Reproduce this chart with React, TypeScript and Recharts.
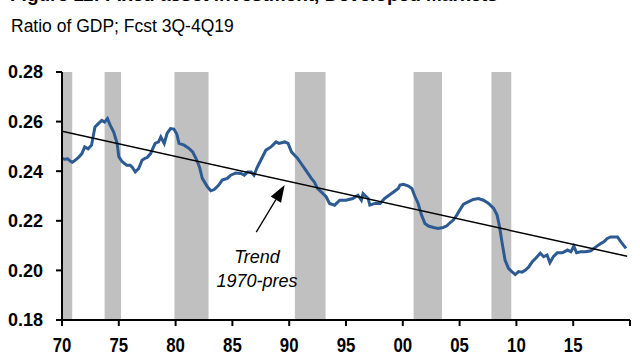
import React from 'react'
import {
  LineChart, Line, XAxis, YAxis, ReferenceArea, ReferenceLine,
} from 'recharts'

// ---- data ----
const years = [
  1970.0, 1970.25, 1970.5, 1970.75, 1970.9, 1971.1, 1971.3, 1971.5, 1971.75, 1972.0,
  1972.3, 1972.6, 1972.9, 1973.2, 1973.5, 1973.75, 1974.0, 1974.25, 1974.55, 1974.85,
  1975.0, 1975.3, 1975.7, 1976.0, 1976.2, 1976.45, 1976.75, 1977.05, 1977.3, 1977.5,
  1977.8, 1978.0, 1978.2, 1978.5, 1978.7, 1979.0, 1979.25, 1979.55, 1979.85, 1980.1,
  1980.3, 1980.75, 1981.2, 1981.5, 1981.8, 1982.1, 1982.35, 1982.8, 1983.1, 1983.4,
  1983.8, 1984.1, 1984.55, 1984.85, 1985.3, 1985.75, 1986.05, 1986.35, 1986.65, 1986.9,
  1987.2, 1987.5, 1987.95, 1988.4, 1988.85, 1989.1, 1989.6, 1989.9, 1990.2, 1990.45,
  1990.75, 1991.05, 1991.35, 1991.65, 1991.95, 1992.2, 1992.5, 1992.8, 1993.25, 1993.55,
  1994.0, 1994.45, 1995.0, 1995.6, 1996.05, 1996.35, 1996.5, 1996.95, 1997.1, 1997.55,
  1998.0, 1998.4, 1998.85, 1999.3, 1999.6, 1999.75, 2000.05, 2000.5, 2000.8, 2001.05,
  2001.35, 2001.65, 2001.95, 2002.25, 2002.7, 2003.1, 2003.55, 2003.85, 2004.15, 2004.45,
  2004.75, 2005.05, 2005.35, 2005.8, 2006.2, 2006.65, 2007.1, 2007.55, 2008.0, 2008.3,
  2008.5, 2008.75, 2009.0, 2009.3, 2009.6, 2009.9, 2010.2, 2010.5, 2010.8, 2011.1,
  2011.4, 2011.7, 2012.1, 2012.4, 2012.7, 2012.95, 2013.25, 2013.6, 2014.05, 2014.5,
  2014.8, 2015.05, 2015.3, 2015.65, 2016.1, 2016.55, 2017.0, 2017.45, 2017.7, 2018.0,
  2018.3, 2018.9, 2019.2, 2019.65,
]
const ratio = [
  0.2452, 0.2448, 0.2450, 0.2440, 0.2436, 0.2442, 0.2450, 0.2458, 0.2471, 0.2498,
  0.2490, 0.2505, 0.2578, 0.2592, 0.2605, 0.2598, 0.2612, 0.2585, 0.2558, 0.2512,
  0.2458, 0.2438, 0.2424, 0.2424, 0.2415, 0.2397, 0.2411, 0.2444, 0.2452, 0.2455,
  0.2471, 0.2492, 0.2512, 0.2518, 0.2538, 0.2512, 0.2552, 0.2572, 0.2570, 0.2550,
  0.2512, 0.2505, 0.2491, 0.2478, 0.2451, 0.2417, 0.2371, 0.2337, 0.2321, 0.2326,
  0.2344, 0.2364, 0.2371, 0.2384, 0.2393, 0.2391, 0.2384, 0.2397, 0.2397, 0.2384,
  0.2417, 0.2444, 0.2485, 0.2498, 0.2518, 0.2512, 0.2518, 0.2512, 0.2478, 0.2465,
  0.2451, 0.2431, 0.2411, 0.2391, 0.2371, 0.2357, 0.2330, 0.2317, 0.2297, 0.2270,
  0.2263, 0.2283, 0.2283, 0.2290, 0.2303, 0.2283, 0.2310, 0.2290, 0.2263, 0.2270,
  0.2270, 0.2290, 0.2305, 0.2320, 0.2330, 0.2344, 0.2347, 0.2340, 0.2330, 0.2300,
  0.2270, 0.2223, 0.2189, 0.2179, 0.2173, 0.2169, 0.2173, 0.2179, 0.2192, 0.2203,
  0.2223, 0.2246, 0.2267, 0.2277, 0.2286, 0.2290, 0.2283, 0.2270, 0.2250, 0.2223,
  0.2180, 0.2109, 0.2042, 0.2008, 0.1995, 0.1983, 0.1995, 0.1993, 0.2001, 0.2015,
  0.2035, 0.2049, 0.2069, 0.2055, 0.2062, 0.2031, 0.2055, 0.2071, 0.2071, 0.2082,
  0.2075, 0.2098, 0.2071, 0.2075, 0.2075, 0.2079, 0.2095, 0.2109, 0.2115, 0.2129,
  0.2135, 0.2135, 0.2115, 0.2089,
]

// trend 1970-present (endpoints)
const trendYears = [1970, 2019.75]
const trendValues = [0.2561, 0.2057]

// shaded recession periods [start, end]
const recessions: [number, number][] = [
  [1970.0, 1970.9],
  [1973.75, 1975.2],
  [1979.9, 1982.9],
  [1990.5, 1993.2],
  [2000.95, 2003.45],
  [2007.8, 2009.55],
]

const yTicks = [0.18, 0.2, 0.22, 0.24, 0.26, 0.28]
const xTicks = [1970, 1975, 1980, 1985, 1990, 1995, 2000, 2005, 2010, 2015, 2020]
const xTickLabels = ['70', '75', '80', '85', '90', '95', '00', '05', '10', '15', '']

// arrow annotation: tail -> tip, in data units
const arrowFrom = { x: 1987.1, y: 0.2154 }
const arrowTo = { x: 1989.6, y: 0.2344 }

const series = years.map((y, i) => ({ year: y, v: ratio[i] }))
const trend = trendYears.map((y, i) => ({ year: y, t: trendValues[i] }))

const FONT = "'Liberation Sans', Arial, sans-serif"

// condensed bold labels like the original
function XTick({ x, y, payload }: any) {
  const idx = xTicks.indexOf(payload.value)
  return (
    <text
      transform={`translate(${x},${y + 24}) scale(0.8,1)`}
      textAnchor="middle"
      fontFamily={FONT}
      fontWeight="bold"
      fontSize={21}
      fill="#000"
    >
      {xTickLabels[idx]}
    </text>
  )
}

function Arrow(props: any) {
  const { x1, y1, x2, y2 } = props
  const dx = x2 - x1
  const dy = y2 - y1
  const len = Math.sqrt(dx * dx + dy * dy)
  const ux = dx / len
  const uy = dy / len
  const headLen = 17
  const headW = 6
  const bx = x2 - ux * headLen
  const by = y2 - uy * headLen
  const pts = `${x2},${y2} ${bx - uy * headW},${by + ux * headW} ${bx + uy * headW},${by - ux * headW}`
  return (
    <g>
      <line x1={x1} y1={y1} x2={bx} y2={by} stroke="#000" strokeWidth={1.3} />
      <polygon points={pts} fill="#000" />
    </g>
  )
}

export default function App() {
  return (
    <div style={{ position: 'absolute', left: 0, top: 0, width: 640, height: 360, background: '#fff', overflow: 'hidden' }}>
      <div style={{ position: 'absolute', left: 10, top: -16, fontFamily: FONT, fontWeight: 'bold', fontSize: 19, whiteSpace: 'nowrap' }}>
        Figure 11: Fixed asset investment, Developed Markets
      </div>
      <div style={{ position: 'absolute', left: 11, top: 16, fontFamily: FONT, fontSize: 17.5, whiteSpace: 'nowrap' }}>
        Ratio of GDP; Fcst 3Q-4Q19
      </div>
      <LineChart width={640} height={360} margin={{ top: 72, right: 10, bottom: 0, left: 0 }}>
        <XAxis
          type="number"
          dataKey="year"
          domain={[1970, 2020]}
          ticks={xTicks}
          allowDataOverflow
          height={40}
          tickSize={6}
          tickMargin={2}
          axisLine={{ stroke: '#000', strokeWidth: 2 }}
          tickLine={{ stroke: '#000', strokeWidth: 2 }}
          tick={<XTick />}
          interval={0}
        />
        <YAxis
          type="number"
          domain={[0.18, 0.28]}
          ticks={yTicks}
          width={62}
          tickSize={6}
          tickMargin={13}
          tickFormatter={(v: number) => v.toFixed(2)}
          axisLine={{ stroke: '#000', strokeWidth: 2 }}
          tickLine={{ stroke: '#000', strokeWidth: 2 }}
          tick={{ fill: '#000', fontSize: 18, fontWeight: 'bold', fontFamily: FONT }}
          interval={0}
        />
        {recessions.map(([a, b], i) => (
          <ReferenceArea key={i} x1={a} x2={b} y1={0.18} y2={0.28} fill="#c0c0c0" fillOpacity={1} stroke="none" ifOverflow="hidden" />
        ))}
        <Line
          data={series}
          dataKey="v"
          type="linear"
          stroke="#2c5a92"
          strokeWidth={3}
          dot={false}
          isAnimationActive={false}
        />
        <Line
          data={trend}
          dataKey="t"
          type="linear"
          stroke="#000"
          strokeWidth={1.5}
          dot={false}
          isAnimationActive={false}
        />
        <ReferenceLine
          segment={[arrowFrom, arrowTo]}
          shape={<Arrow />}
          ifOverflow="visible"
        />
      </LineChart>
      <div style={{ position: 'absolute', left: 207, top: 245, width: 100, textAlign: 'center', fontFamily: FONT, fontStyle: 'italic', fontSize: 18, lineHeight: '24px', whiteSpace: 'nowrap' }}>
        Trend<br />1970-pres
      </div>
    </div>
  )
}
